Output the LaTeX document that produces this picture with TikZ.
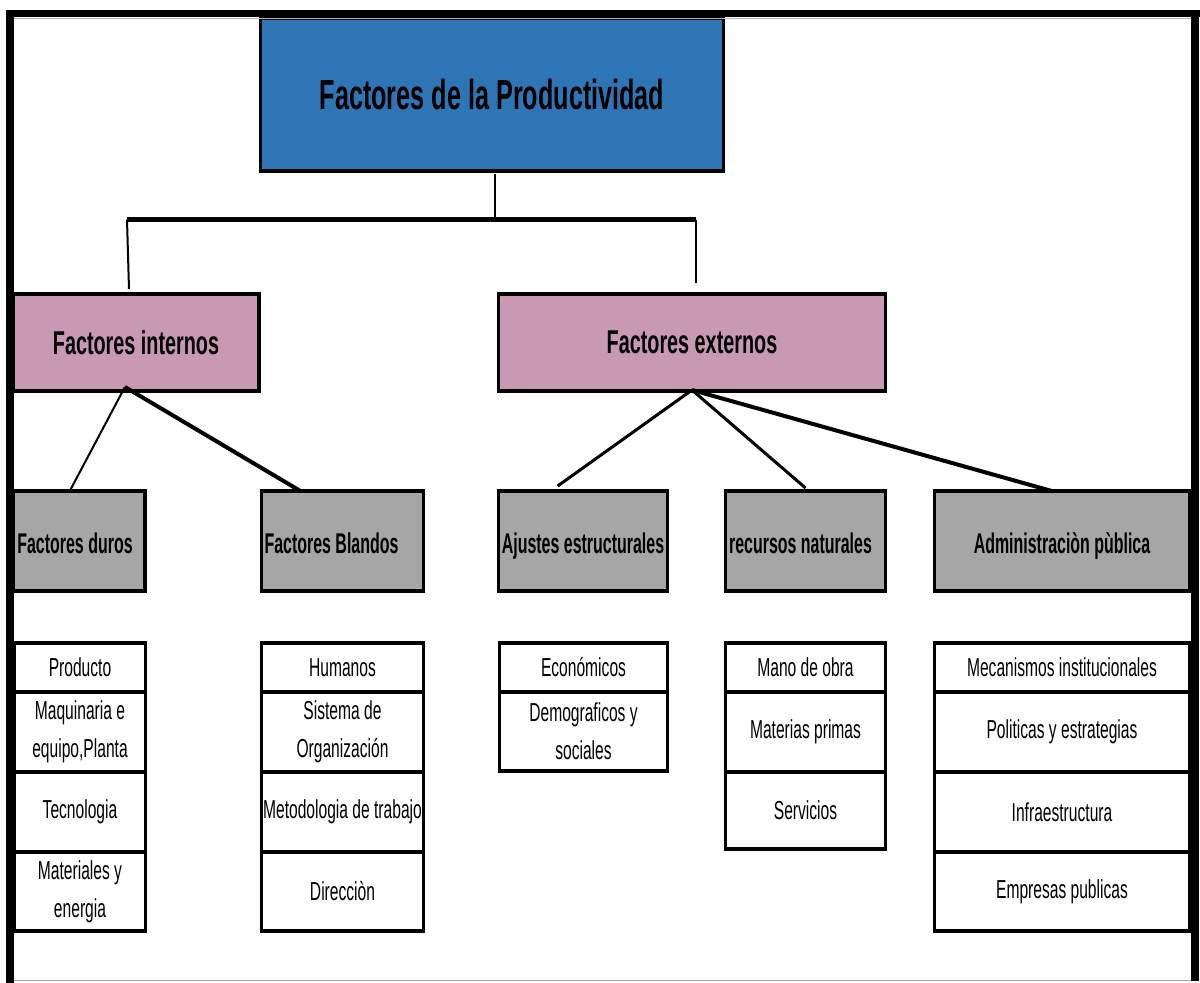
\documentclass[tikz,border=0pt]{standalone}
\usepackage{fontspec}
\setmainfont[FakeStretch=0.6]{Liberation Sans}
\newfontfamily\catfont[FakeStretch=0.56]{Liberation Sans}
\usetikzlibrary{calc}

\definecolor{rootblue}{RGB}{46,117,182}
\definecolor{levelpink}{RGB}{201,153,179}
\definecolor{catgray}{RGB}{166,166,166}

\begin{document}
\begin{tikzpicture}[x=1pt,y=-1pt,
  box/.style={draw=black,line width=3.5pt,inner sep=0pt,outer sep=0pt},
  rootbox/.style={box,fill=rootblue,font=\bfseries\fontsize{42}{50}\selectfont},
  levelbox/.style={box,fill=levelpink,font=\bfseries\fontsize{33}{40}\selectfont},
  catbox/.style={box,fill=catgray},
  cattext/.style={font=\catfont\bfseries\fontsize{28.5}{34}\selectfont,inner sep=0pt,anchor=base},
  cell/.style={box,fill=white,align=center,font=\fontsize{26}{38}\selectfont},
  thinlink/.style={line width=2pt},
  midlink/.style={line width=3pt},
  boldlink/.style={line width=4pt},
  barlink/.style={line width=5pt}]

\useasboundingbox (0,0) rectangle (1200,983);
\fill[white] (0,0) rectangle (1200,983);

% ---------- top level ----------
\node[rootbox,minimum width=463pt,minimum height=153pt] (root) at (492,94.5)
  {Factores de la Productividad};

% ---------- second level ----------
\node[levelbox,minimum width=246pt,minimum height=97pt] (internos) at (136,342.5)
  {Factores internos};
\node[levelbox,minimum width=387pt,minimum height=97pt] (externos) at (692,342.5)
  {Factores externos};

% ---------- categories ----------
\node[catbox,minimum width=132pt,minimum height=100pt] (duros)    at (79,541) {};
\node[catbox,minimum width=162pt,minimum height=100pt] (blandos)  at (342.5,541) {};
\node[catbox,minimum width=169pt,minimum height=100pt] (ajustes)  at (583,541) {};
\node[catbox,minimum width=160pt,minimum height=100pt] (recursos) at (805.5,541) {};
\node[catbox,minimum width=255pt,minimum height=100pt] (admin)    at (1062,541) {};

\node[cattext] (durosT)    at ($(duros.center)+(-4,12)$)     {Factores duros};
\node[cattext] (blandosT)  at ($(blandos.center)+(-11,12)$)  {Factores Blandos};
\node[cattext] (ajustesT)  at ($(ajustes.center)+(0,12)$)    {Ajustes estructurales};
\node[cattext] (recursosT) at ($(recursos.center)+(-5,12)$)  {recursos naturales};
\node[cattext] (adminT)    at ($(admin.center)+(0,12)$)      {Administraciòn pùblica};

% ---------- lists ----------
% Factores duros
\node[cell,minimum width=131pt,minimum height=49pt] (d1) at (80,667.5) {Producto};
\node[cell,minimum width=131pt,minimum height=80pt] (d2) at (80,732) {Maquinaria e\\equipo,Planta};
\node[cell,minimum width=131pt,minimum height=80pt] (d3) at (80,812) {Tecnologia};
\node[cell,minimum width=131pt,minimum height=79pt] (d4) at (80,891.5) {Materiales y\\energia};

% Factores Blandos
\node[cell,minimum width=162pt,minimum height=49pt] (b1) at (342.5,667.5) {Humanos};
\node[cell,minimum width=162pt,minimum height=80pt] (b2) at (342.5,732) {Sistema de\\Organización};
\node[cell,minimum width=162pt,minimum height=80pt] (b3) at (342.5,812) {Metodologia de trabajo};
\node[cell,minimum width=162pt,minimum height=79pt] (b4) at (342.5,891.5) {Direcciòn};

% Ajustes estructurales
\node[cell,minimum width=168pt,minimum height=49pt] (a1) at (583.5,667.5) {Económicos};
\node[cell,minimum width=168pt,minimum height=79pt] (a2) at (583.5,731.5) {Demograficos y\\sociales};

% recursos naturales
\node[cell,minimum width=160pt,minimum height=49pt] (r1) at (805.5,667.5) {Mano de obra};
\node[cell,minimum width=160pt,minimum height=80pt] (r2) at (805.5,732) {Materias primas};
\node[cell,minimum width=160pt,minimum height=77pt] (r3) at (805.5,810.5) {Servicios};

% Administracion publica
\node[cell,minimum width=255pt,minimum height=49pt] (p1) at (1062,667.5) {Mecanismos institucionales};
\node[cell,minimum width=255pt,minimum height=80pt] (p2) at (1062,732) {Politicas y estrategias};
\node[cell,minimum width=255pt,minimum height=80pt] (p3) at (1062,812) {Infraestructura};
\node[cell,minimum width=255pt,minimum height=79pt] (p4) at (1062,891.5) {Empresas publicas};

% ---------- connectors ----------
\coordinate (barM) at (495,219.5);
\coordinate (barL) at (127,219.5);
\coordinate (barR) at (696,219.5);
\draw[thinlink] (root.south) ++(3,3) -- (barM);
\draw[barlink] (barL) -- (barR);
\draw[thinlink] (barL) -- ($(barL |- internos.north)+(2,-5)$);
\draw[thinlink] (barR) -- ($(barR |- externos.north)+(0,-11)$);

\coordinate (intO) at ($(internos.south west)!0.455!(internos.south east)+(0,-4)$);
\draw[thinlink] (intO) -- ($(duros.north west)!0.43!(duros.north east)$);
\draw[boldlink] (intO) -- ($(blandos.north west)!0.24!(blandos.north east)$);

\coordinate (extO) at ($(externos.south)+(0,-1)$);
\draw[midlink] (extO) -- ($(ajustes.north west)!0.35!(ajustes.north east)+(0,-5)$);
\draw[midlink] (extO) -- ($(recursos.north west)!0.5!(recursos.north east)+(0,-3)$);
\draw[boldlink] (extO) -- ($(admin.north west)!0.46!(admin.north east)$);

% ---------- outer frame ----------
\draw[gray!60,line width=0.8pt] (14,18.5) -- (1191,18.5);
\draw[gray!70,line width=1pt] (14,980.5) -- (1191,980.5);
\draw[line width=7pt] (6,13.5) -- (1200,13.5);
\draw[line width=8pt] (10,10) -- (10,983);
\draw[line width=8pt] (1195,10) -- (1195,981);
\end{tikzpicture}
\end{document}
